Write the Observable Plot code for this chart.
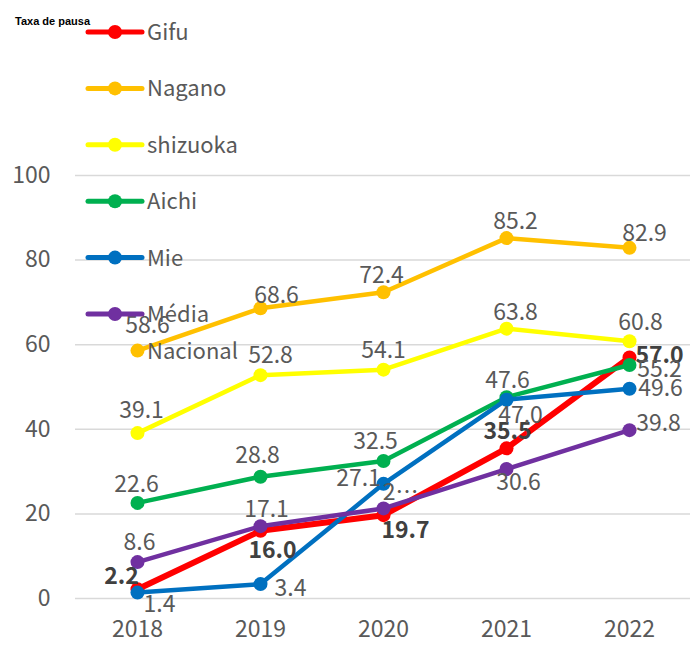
<!DOCTYPE html>
<html><head><meta charset="utf-8">
<script src="https://cdn.jsdelivr.net/npm/d3@7"></script>
<script src="https://cdn.jsdelivr.net/npm/@observablehq/plot@0.6"></script>
<style>
body{margin:0;background:#fff;}
#wrap{position:relative;width:693px;height:645px;}
#wrap svg{display:block}
#overlay{position:absolute;left:0;top:0;pointer-events:none}
</style></head><body><div id="wrap"></div>
<script>
// ---- data ----
const years = ["2018","2019","2020","2021","2022"];
const seriesNames = ["Gifu","Nagano","shizuoka","Aichi","Mie","Média Nacional"];
const gifu = [2.2,16.0,19.7,35.5,57.0];
const nagano = [58.6,68.6,72.4,85.2,82.9];
const shizuoka = [39.1,52.8,54.1,63.8,60.8];
const aichi = [22.6,28.8,32.5,47.6,55.2];
const mie = [1.4,3.4,27.1,47.0,49.6];
const mediaNacional = [8.6,17.1,21.3,30.6,39.8];
const yTicks = [0,20,40,60,80,100];
const title = "Taxa de pausa";
// label shown truncated in the original
const labelOverrides = {"Média Nacional|2020": "2…"};

// ---- styles ----
const colors = ["#FF0000","#FFC000","#FFFF00","#00B050","#0070C0","#7030A0"];
const widths = [6,4.5,4.5,4.5,4.5,4.5];
const labelOffsets = {
  "Gifu": [[-16,-13],[12,20],[22,15],[1,-17],[30,-2]],
  "Nagano": [[10,-25],[16,-13],[-2,-17],[9,-16],[15,-14]],
  "shizuoka": [[4,-22],[10,-20],[0,-19],[9,-16],[11,-19]],
  "Aichi": [[-1,-18],[-3,-21],[-8,-19],[1,-17],[30,5]],
  "Mie": [[22,12],[30,5],[-25,-5],[14,16],[31,0]],
  "Média Nacional": [[2,-19],[6,-17],[17,-16],[12,14],[29,-7]]
};

const seriesValues = [gifu, nagano, shizuoka, aichi, mie, mediaNacional];
const FONT = "'Noto Sans CJK JP', 'Noto Sans', sans-serif";

const seriesMarks = [];
const labelMarks = [];
seriesNames.forEach((name, si) => {
  const rows = years.map((yr, i) => ({year: yr, value: seriesValues[si][i], series: name}));
  seriesMarks.push(Plot.line(rows, {x: "year", y: "value", stroke: colors[si], strokeWidth: widths[si], strokeLinejoin: "round", strokeLinecap: "round"}));
  seriesMarks.push(Plot.dot(rows, {x: "year", y: "value", r: 7, fill: colors[si], stroke: null}));
  rows.forEach((d, i) => {
    const [dx, dy] = labelOffsets[name][i];
    const txt = labelOverrides[name + "|" + d.year] ?? d.value.toFixed(1);
    labelMarks.push(Plot.text([d], {
      x: "year", y: "value", text: () => txt, dx, dy,
      fontSize: 23, fontFamily: FONT, lineAnchor: "middle", textAnchor: "middle",
      fill: si === 0 ? "#404040" : "#595959", fontWeight: si === 0 ? "bold" : "normal"
    }));
  });
});

const chart = Plot.plot({
  width: 693, height: 645,
  marginLeft: 75, marginRight: 3, marginTop: 175, marginBottom: 47,
  x: {type: "point", domain: years, padding: 0.5},
  y: {domain: [0, 100]},
  style: {fontFamily: FONT, color: "#595959", background: "white"},
  marks: [
    Plot.gridY(yTicks, {stroke: "#d9d9d9", strokeOpacity: 1, strokeWidth: 1.5}),
    Plot.axisY(yTicks, {tickSize: 0, tickPadding: 25, fontSize: 23, label: null, fill: "#595959"}),
    Plot.axisX({tickSize: 0, tickPadding: 22, fontSize: 23, label: null, fill: "#595959"}),
    ...seriesMarks,
    ...labelMarks
  ]
});
const wrap = document.getElementById("wrap");
wrap.appendChild(chart);

// ---- overlay: title + legend ----
const ov = d3.select(wrap).append("svg").attr("id","overlay").attr("width",693).attr("height",645);
ov.append("text").attr("x",15).attr("y",25).text(title)
  .attr("font-family","'Liberation Sans', Arial, sans-serif").attr("font-weight","bold")
  .attr("font-size",11).attr("fill","#000");
seriesNames.forEach((name, si) => {
  const cy = 32 + si * 56.4;
  const g = ov.append("g");
  g.append("line").attr("x1",88).attr("x2",142).attr("y1",cy).attr("y2",cy)
    .attr("stroke",colors[si]).attr("stroke-width",5).attr("stroke-linecap","round");
  g.append("circle").attr("cx",115).attr("cy",cy).attr("r",7).attr("fill",colors[si]);
  const words = name.split(" ");
  const t = g.append("text").attr("font-family",FONT).attr("font-size",22).attr("fill","#595959");
  words.forEach((w, wi) => {
    t.append("tspan").attr("x",147).attr("y",cy + wi * 37).attr("dy","0.36em").text(w);
  });
});
</script></body></html>
